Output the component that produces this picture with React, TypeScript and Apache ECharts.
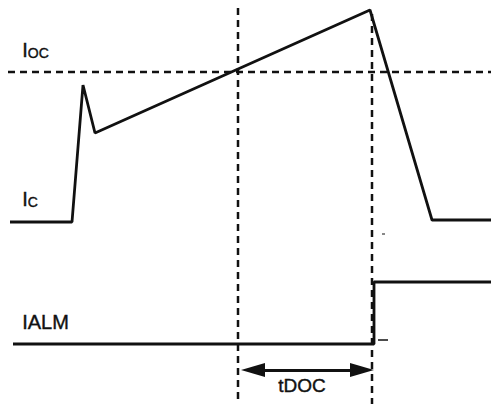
import React, { useEffect, useRef } from "react";
import * as echarts from "echarts";

const W = 491;
const H = 404;

// Ic waveform (time, level in picture units)
const icX = [10, 72, 83, 95, 370, 432, 491];
const icY = [222, 222, 85, 133, 10, 220, 220];

// IALM waveform
const ialmX = [13, 374, 374, 491];
const ialmY = [344, 344, 282, 282];

// Reference levels / instants
const iocLevel = 72;
const iocStart = 8;
const markerX = [238, 372];
const markerTop = [8, 14];

// tDOC arrow (tips)
const arrowX = [241, 374];
const arrowY = 370;
const arrowHead = 24;

const black = "#111";
const font = "Liberation Sans, Arial, sans-serif";

export default function App() {
  const ref = useRef<HTMLDivElement>(null);
  useEffect(() => {
    const chart = echarts.init(ref.current!, undefined, { renderer: "svg" });
    const pts = (xs: number[], ys: number[]) => xs.map((x, i) => [x, ys[i]]);
    const solid = (name: string, data: number[][], width = 2.8) => ({
      name,
      type: "line",
      data,
      symbol: "none",
      silent: true,
      lineStyle: { color: black, width },
    });
    const dashed = (name: string, data: number[][]) => ({
      name,
      type: "line",
      data,
      symbol: "none",
      silent: true,
      lineStyle: { color: black, width: 2.5, type: [7, 5] },
    });
    const txt = { fill: black, stroke: black, lineWidth: 0.4 };
    chart.setOption({
      animation: false,
      grid: { left: 0, right: 0, top: 0, bottom: 0 },
      xAxis: { type: "value", min: 0, max: W, show: false },
      yAxis: { type: "value", min: 0, max: H, inverse: true, show: false },
      series: [
        dashed("IOC level", [[iocStart, iocLevel], [W, iocLevel]]),
        dashed("t1", [[markerX[0], markerTop[0]], [markerX[0], H]]),
        dashed("t2", [[markerX[1], markerTop[1]], [markerX[1], H]]),
        solid("Ic", pts(icX, icY)),
        solid("IALM", pts(ialmX, ialmY)),
        solid("tick", [[378, 340], [388, 340]], 1.5),
        solid("tick2", [[382, 234], [385, 234]], 1),
        {
          name: "tDOC",
          type: "line",
          data: [],
          silent: true,
          markLine: {
            silent: true,
            symbol: ["triangle", "triangle"],
            symbolSize: [14, arrowHead],
            label: { show: false },
            lineStyle: { color: black, width: 2.8, type: "solid" },
            data: [
              [
                { coord: [arrowX[0] + arrowHead / 2, arrowY] },
                { coord: [arrowX[1] - arrowHead / 2, arrowY] },
              ],
            ],
          },
        },
      ],
      graphic: [
        {
          type: "text",
          left: 22,
          top: 40,
          style: {
            text: "{a|I}{b|OC}",
            ...txt,
            rich: {
              a: { fontSize: 20, fontFamily: font, ...txt, verticalAlign: "bottom" },
              b: { fontSize: 14, fontFamily: font, ...txt, verticalAlign: "bottom" },
            },
          },
        },
        {
          type: "text",
          left: 22,
          top: 189,
          style: {
            text: "{a|I}{b|C}",
            ...txt,
            rich: {
              a: { fontSize: 20, fontFamily: font, ...txt, verticalAlign: "bottom" },
              b: { fontSize: 14, fontFamily: font, ...txt, verticalAlign: "bottom" },
            },
          },
        },
        {
          type: "text",
          left: 22,
          top: 312,
          style: { text: "IALM", fontSize: 20, fontFamily: font, ...txt },
        },
        {
          type: "text",
          left: 278,
          top: 376,
          style: { text: "tDOC", fontSize: 19, fontFamily: font, ...txt },
        },
      ],
    });
    return () => chart.dispose();
  }, []);
  return (
    <div
      ref={ref}
      style={{ position: "fixed", left: 0, top: 0, width: W, height: H, background: "#fff" }}
    />
  );
}
